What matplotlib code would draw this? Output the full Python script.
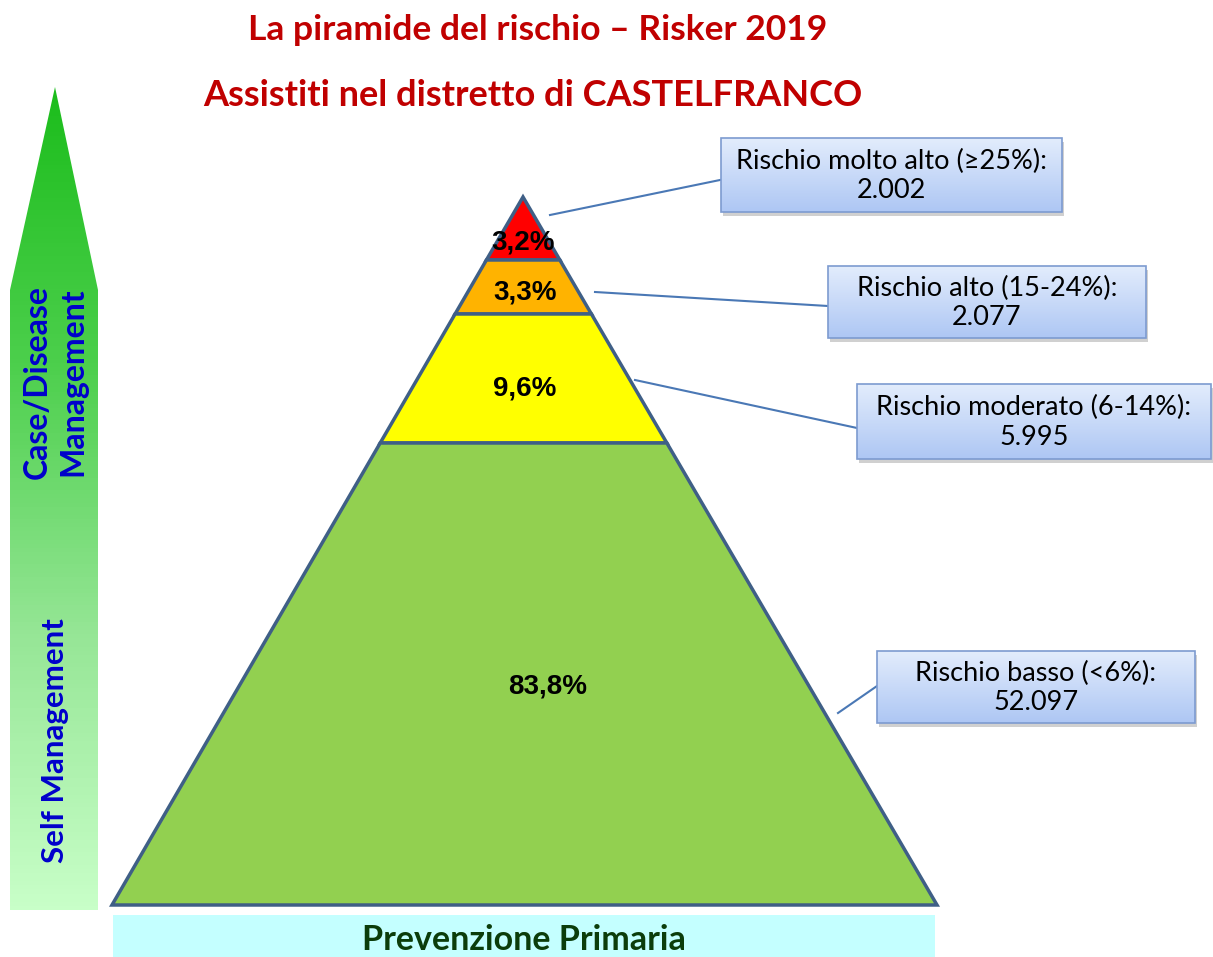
import numpy as np
import matplotlib.pyplot as plt
from matplotlib.patches import Polygon, Rectangle
from matplotlib.colors import LinearSegmentedColormap

# Dati della piramide (dall'alto verso il basso)
livelli = ['Rischio molto alto (≥25%)', 'Rischio alto (15-24%)',
           'Rischio moderato (6-14%)', 'Rischio basso (<6%)']
assistiti = ['2.002', '2.077', '5.995', '52.097']
quote = ['3,2%', '3,3%', '9,6%', '83,8%']
colori = ['#ff0000', '#ffb300', '#ffff00', '#92d050']

titolo1 = 'La piramide del rischio – Risker 2019'
titolo2 = 'Assistiti nel distretto di CASTELFRANCO'

# Geometria (pixel dell'immagine)
W, H = 1213, 957
apice = (523, 197)
base_y, base_sx, base_dx = 905, 112, 937
confini = [197, 260, 314, 443, 905]  # limiti verticali delle fasce
pos_etichette = [(523, 242), (525, 293), (525, 388), (548, 686)]
box = [(721, 138, 1062, 212), (828, 266, 1146, 338),
       (857, 384, 1211, 459), (877, 651, 1195, 723)]
linee = [((550, 215), (720, 180)), ((595, 292), (828, 306)),
         ((635, 380), (857, 428)), ((838, 713), (877, 686))]

fig = plt.figure(figsize=(W / 100, H / 100), dpi=100)
ax = fig.add_axes([0, 0, 1, 1])
ax.set_xlim(0, W)
ax.set_ylim(H, 0)
ax.axis('off')


def x_bordo(y):
    t = (y - apice[1]) / (base_y - apice[1])
    return apice[0] + t * (base_sx - apice[0]), apice[0] + t * (base_dx - apice[0])


# Fasce della piramide
for i in range(4):
    y0, y1 = confini[i], confini[i + 1]
    l0, r0 = x_bordo(y0)
    l1, r1 = x_bordo(y1)
    ax.add_patch(Polygon([(l0, y0), (r0, y0), (r1, y1), (l1, y1)], closed=True,
                         facecolor=colori[i], edgecolor='#3f5f86', lw=2.5, zorder=2))
    ax.text(*pos_etichette[i], quote[i], ha='center', va='center', fontsize=20,
            fontweight='bold', family='Liberation Sans', zorder=4)

# Riquadri con i valori
cmap_box = LinearSegmentedColormap.from_list('box', ['#e2ecfc', '#aec7f4'])
for (x0, y0, x1, y1), nome, n, (p, q) in zip(box, livelli, assistiti, linee):
    ax.plot([p[0], q[0]], [p[1], q[1]], color='#4a78b5', lw=1.5, zorder=1)
    ax.add_patch(Rectangle((x0 + 2, y0 + 4), x1 - x0, y1 - y0, facecolor='#d0d0d0',
                           edgecolor='none', zorder=2))
    ax.imshow(np.linspace(0, 1, 50)[:, None], cmap=cmap_box, aspect='auto',
              extent=(x0, x1, y1, y0), origin='upper', zorder=3)
    ax.add_patch(Rectangle((x0, y0), x1 - x0, y1 - y0, facecolor='none',
                           edgecolor='#7d9bd0', lw=1.2, zorder=4))
    ax.text((x0 + x1) / 2, (y0 + y1) / 2 + 1, nome + ':\n' + n, ha='center', va='center',
            fontsize=19.5, family=['Lato', 'DejaVu Sans'], linespacing=1.22, zorder=5)

# Freccia verticale a sinistra
freccia = Polygon([(10, 290), (55, 87), (98, 290), (98, 910), (10, 910)], closed=True,
                  facecolor='none', edgecolor='none')
ax.add_patch(freccia)
cmap_fr = LinearSegmentedColormap.from_list('fr', ['#1cbd1c', '#4ccf4c', '#96e696', '#c8ffc8'])
img = ax.imshow(np.linspace(0, 1, 200)[:, None], cmap=cmap_fr, aspect='auto',
                extent=(10, 98, 910, 87), origin='upper', zorder=1)
img.set_clip_path(freccia)
ax.text(55, 382, 'Case/Disease\nManagement', rotation=90, ha='center', va='center',
        fontsize=23, fontweight='bold', color='#0000cc', family='Lato', linespacing=1.25)
ax.text(55, 741, 'Self Management', rotation=90, ha='center', va='center',
        fontsize=22.5, fontweight='bold', color='#0000cc', family='Lato')

# Barra in basso
ax.add_patch(Rectangle((113, 915), 822, 42, facecolor='#c4ffff', edgecolor='none', zorder=1))
ax.text(524, 940, 'Prevenzione Primaria', ha='center', va='center', fontsize=24.5,
        fontweight='bold', color='#0b3d0b', family='Lato')

# Titoli
ax.text(538, 30, titolo1, ha='center', va='center', fontsize=25.5, fontweight='bold',
        color='#c00000', family='Lato')
ax.text(533, 95, titolo2, ha='center', va='center', fontsize=26, fontweight='bold',
        color='#c00000', family='Lato')

fig.savefig('out.png', dpi=100)
